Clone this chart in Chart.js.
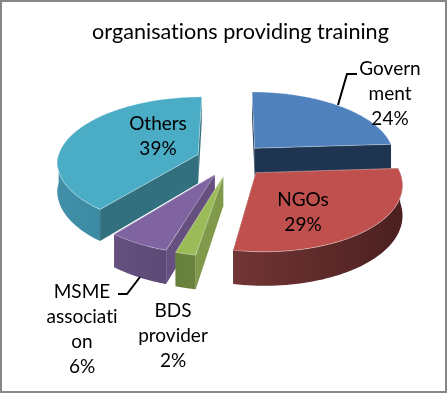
<!DOCTYPE html>
<html>
<head>
	<title>organisations providing training</title>
	<style>
		html, body {
			margin: 0;
			padding: 0;
			background: #fff;
		}

		#app {
			position: relative;
			box-sizing: border-box;
			width: 447px;
			height: 393px;
			border: 2px solid #868686;
			overflow: hidden;
		}

		#app canvas {
			position: absolute;
			left: -2px;
			top: -2px;
		}
	</style>
</head>
<body>

	<div id="app">
		<canvas id="trainingCanvas" width="447" height="393"></canvas>
	</div>

	<script src="https://cdn.jsdelivr.net/npm/chart.js@4/dist/chart.umd.js"></script>
	<script>
		var chartTitle = 'organisations providing training';
		var categories = ['Government', 'NGOs', 'BDS provider', 'MSME association', 'Others'];
		var shares = [24, 29, 2, 6, 39];

		// wrapped the way the picture wraps them
		var labelLines = [
			['Govern', 'ment'],
			['NGOs'],
			['BDS', 'provider'],
			['MSME', 'associati', 'on'],
			['Others']
		];
		var labelAnchors = [[390, 69], [303, 200], [173, 311], [82, 292], [158, 124]];
		var leaderLines = [
			[[357, 74], [347, 74], [338, 105]],
			null,
			null,
			[[118, 294], [127, 294], [140, 277]],
			null
		];

		var topColors = ['#4f81bd', '#c0504d', '#9bbb59', '#8064a2', '#4bacc6'];
		var wallColors = ['#1f3450', '#4a1f1f', '#7f9a4a', '#65507f', '#33707f'];
		var rimStart = ['#1f3450', '#4c2020', '#6a843e', '#5c4975', '#3c8ba3'];
		var rimEnd = ['#1f3450', '#733535', '#66803c', '#655080', '#418fa8'];

		// order slices are painted in, back to front
		var paintOrder = [0, 4, 3, 2, 1];

		var view = {cx: 231, cy: 160, rx: 141, ry: 66, tilt: 0.123, skew: 5, depth: 29, explode: 0.25, steps: 60};

		function project(x, y, lift) {
			var d = 1 + view.tilt * y;
			return {
				x: view.cx + view.rx * x / d + Math.max(0, -y) * view.skew,
				y: view.cy - view.ry * y / d + lift * view.depth / d
			};
		}

		// slice geometry in disc units, angles measured clockwise from 12 o'clock
		function slicePoint(a, mid, r, lift) {
			return project(
				view.explode * Math.sin(mid) + r * Math.sin(a),
				view.explode * Math.cos(mid) + r * Math.cos(a),
				lift
			);
		}

		function moveOrLine(ctx, p, first) {
			if (first) {
				ctx.moveTo(p.x, p.y);
			} else {
				ctx.lineTo(p.x, p.y);
			}
		}

		function drawSlice(ctx, arc, i) {
			var a0 = arc.startAngle + Math.PI / 2;
			var a1 = arc.endAngle + Math.PI / 2;
			var mid = (a0 + a1) / 2;
			var s, a, p;

			// radial walls
			[a0, a1].forEach(function (a) {
				ctx.beginPath();
				moveOrLine(ctx, slicePoint(a, mid, 0, 0), true);
				moveOrLine(ctx, slicePoint(a, mid, 1, 0));
				moveOrLine(ctx, slicePoint(a, mid, 1, 1));
				moveOrLine(ctx, slicePoint(a, mid, 0, 1));
				ctx.closePath();
				ctx.fillStyle = wallColors[i];
				ctx.fill();
			});

			// outer rim, only the part that faces the viewer
			var f0 = Math.max(a0, Math.PI / 2);
			var f1 = Math.min(a1, Math.PI * 1.5);
			if (f1 > f0) {
				var left = slicePoint(f0, mid, 1, 0);
				var right = slicePoint(f1, mid, 1, 0);
				var grad = ctx.createLinearGradient(left.x, 0, right.x, 0);
				grad.addColorStop(0, rimStart[i]);
				grad.addColorStop(1, rimEnd[i]);
				ctx.beginPath();
				for (s = 0; s <= view.steps; s++) {
					a = f0 + (f1 - f0) * s / view.steps;
					moveOrLine(ctx, slicePoint(a, mid, 1, 0), s == 0);
				}
				for (s = view.steps; s >= 0; s--) {
					a = f0 + (f1 - f0) * s / view.steps;
					moveOrLine(ctx, slicePoint(a, mid, 1, 1));
				}
				ctx.closePath();
				ctx.fillStyle = grad;
				ctx.fill();
			}

			// top face
			ctx.beginPath();
			moveOrLine(ctx, slicePoint(a0, mid, 0, 0), true);
			for (s = 0; s <= view.steps; s++) {
				a = a0 + (a1 - a0) * s / view.steps;
				moveOrLine(ctx, slicePoint(a, mid, 1, 0));
			}
			ctx.closePath();
			ctx.fillStyle = topColors[i];
			ctx.fill();
			ctx.strokeStyle = 'rgba(255,255,255,0.35)';
			ctx.lineWidth = 1;
			ctx.stroke();
		}

		var pie3d = {
			id: 'pie3d',
			beforeDraw: function (chart) {
				// keeps Lato from joining "ti" into a ligature
				chart.ctx.textRendering = 'optimizeSpeed';
			},
			beforeDatasetDraw: function (chart, args) {
				var ctx = chart.ctx;
				var arcs = args.meta.data;
				ctx.save();
				paintOrder.forEach(function (i) {
					drawSlice(ctx, arcs[i], i);
				});
				ctx.restore();
				return false;
			},
			afterDraw: function (chart) {
				var ctx = chart.ctx;
				ctx.save();
				ctx.strokeStyle = '#000';
				ctx.lineWidth = 2;
				leaderLines.forEach(function (pts) {
					if (!pts) return;
					ctx.beginPath();
					pts.forEach(function (p, n) {
						moveOrLine(ctx, {x: p[0], y: p[1]}, n == 0);
					});
					ctx.stroke();
				});
				ctx.fillStyle = '#000';
				ctx.font = '19px Lato';
				ctx.textAlign = 'center';
				ctx.textBaseline = 'middle';
				categories.forEach(function (name, i) {
					var lines = labelLines[i].concat(shares[i] + '%');
					lines.forEach(function (line, n) {
						ctx.fillText(line, labelAnchors[i][0], labelAnchors[i][1] + n * 25);
					});
				});
				ctx.restore();
			}
		};

		var ctx = document.getElementById('trainingCanvas').getContext('2d');

		var myChart = new Chart(ctx, {
			type: 'pie',
			data: {
				labels: categories,
				datasets: [{
					data: shares,
					backgroundColor: topColors
				}]
			},
			options: {
				responsive: false,
				animation: false,
				layout: {padding: {left: 34}},
				plugins: {
					legend: {display: false},
					tooltip: {enabled: false},
					title: {
						display: true,
						text: chartTitle,
						color: '#000',
						font: {family: 'Lato', size: 21.6, weight: 'normal'},
						padding: {top: 19, bottom: 10}
					}
				}
			},
			plugins: [pie3d]
		});
	</script>
</body>
</html>
